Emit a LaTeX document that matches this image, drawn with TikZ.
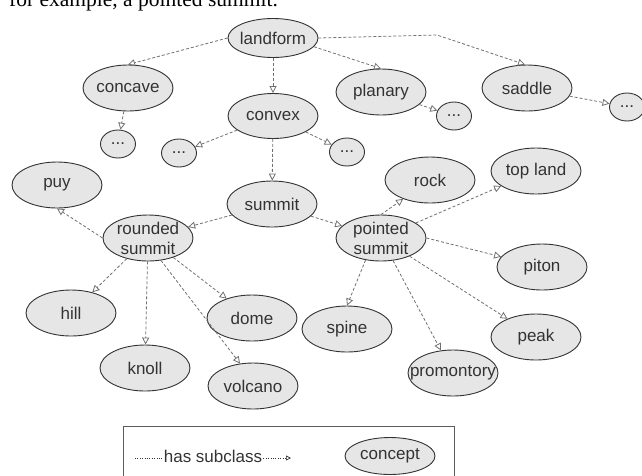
\documentclass[tikz,border=0pt]{standalone}
\usepackage{fontspec}
\setmainfont{Liberation Sans}
\newfontfamily\captionserif{Liberation Serif}
\usetikzlibrary{shapes.geometric,arrows.meta}
\definecolor{conceptfill}{HTML}{E6E6E6}
\definecolor{conceptline}{HTML}{333333}
\definecolor{linkgray}{HTML}{707070}
\begin{document}
\begin{tikzpicture}[x=1pt,y=-1pt,
  concept/.style={ellipse, draw=conceptline, fill=conceptfill, line width=0.9pt,
    minimum width=90pt, minimum height=46pt, inner xsep=-16pt, inner ysep=-16pt,
    align=center, text=conceptline, font=\fontsize{17}{20}\selectfont},
  more/.style={concept, minimum width=35pt, minimum height=28pt},
  subclass/.style={draw=linkgray, line width=0.8pt, dash pattern=on 3pt off 2pt,
    -{Triangle[open,length=7pt,width=7pt]}},
  legendlink/.style={draw=conceptline, line width=0.7pt, dash pattern=on 1pt off 1.4pt},
]
\useasboundingbox (0,0) rectangle (642,475);
\clip (0,0) rectangle (642,475);

% running text line above the figure
\node[anchor=base west, inner sep=0pt, font=\captionserif\fontsize{21.5}{24}\selectfont]
  (caption) at (9,6) {for example, a pointed summit.};

% concepts
\node[concept, minimum height=39pt] (landform) at (273,38) {landform};
\node[concept] (concave)  at (128,88)  {concave};
\node[concept, minimum height=45pt] (convex) at (273,116) {convex};
\node[concept] (planary)  at (381,92)  {planary};
\node[concept] (saddle)   at (527,88)  {saddle};
\node[more] (concavemore) at (118,144) {...};
\node[more] (convexmoreL) at (179,153) {...};
\node[more] (convexmoreR) at (347,152) {...};
\node[more] (planarymore) at (454,116) {...};
\node[more] (saddlemore)  at (627,107) {...};
\node[concept] (summit)   at (272,204) {summit};
\node[concept] (rounded)  at (148,238) {rounded\\summit};
\node[concept] (pointed)  at (381,238) {pointed\\summit};
\node[concept] (puy)      at (57,185)  {puy};
\node[concept] (hill)     at (71,313)  {hill};
\node[concept] (knoll)    at (145,368) {knoll};
\node[concept] (dome)     at (252,318) {dome};
\node[concept] (volcano)  at (253,386) {volcano};
\node[concept] (rock)     at (430,180) {rock};
\node[concept] (topland)  at (536,171) {top land};
\node[concept] (piton)    at (542,267) {piton};
\node[concept] (spine)    at (347,329) {spine};
\node[concept] (peak)     at (536,337) {peak};
\node[concept] (promontory) at (453,373) {promontory};

% subclass links
\coordinate (saddlebend) at (437,35);
\draw[subclass] (landform.west) -- (concave.north);
\draw[subclass] (landform) -- (convex);
\draw[subclass] (landform.-12) -- (planary.north);
\draw[subclass] (landform.east) -- (saddlebend) -- (saddle.95);
\draw[subclass] (concave) -- (concavemore);
\draw[subclass] (convex) -- (convexmoreL);
\draw[subclass] (convex) -- (convexmoreR);
\draw[subclass] (planary) -- (planarymore);
\draw[subclass] (saddle) -- (saddlemore);
\draw[subclass] (convex) -- (summit);
\draw[subclass] (summit) -- (rounded);
\draw[subclass] (summit) -- (pointed);
\draw[subclass] (rounded.west) -- (puy.south);
\draw[subclass] (rounded) -- (hill);
\draw[subclass] (rounded) -- (knoll);
\draw[subclass] (rounded) -- (dome);
\draw[subclass] (rounded.-60) -- (volcano.120);
\draw[subclass] (pointed.north) -- (rock);
\draw[subclass] (pointed) -- (topland);
\draw[subclass] (pointed.east) -- (piton);
\draw[subclass] (pointed.235) -- (spine.north);
\draw[subclass] (pointed) -- (promontory);
\draw[subclass] (pointed) -- (peak);

% legend
\draw[draw=conceptline!80, line width=0.9pt] (123,426) rectangle (454,500);
\node[inner sep=1pt, text=conceptline, font=\fontsize{17}{20}\selectfont]
  (hassub) at (213,456) {has subclass};
\coordinate (legendstart) at (135,458);
\coordinate (legendend) at (291,458);
\draw[legendlink] (legendstart) -- (legendstart -| hassub.west);
\draw[legendlink, -{Triangle[open,length=5pt,width=5pt]}]
  (legendend -| hassub.east) -- (legendend);
\node[concept, minimum height=37pt] (legendconcept) at (390,456) {concept};
\end{tikzpicture}
\end{document}
